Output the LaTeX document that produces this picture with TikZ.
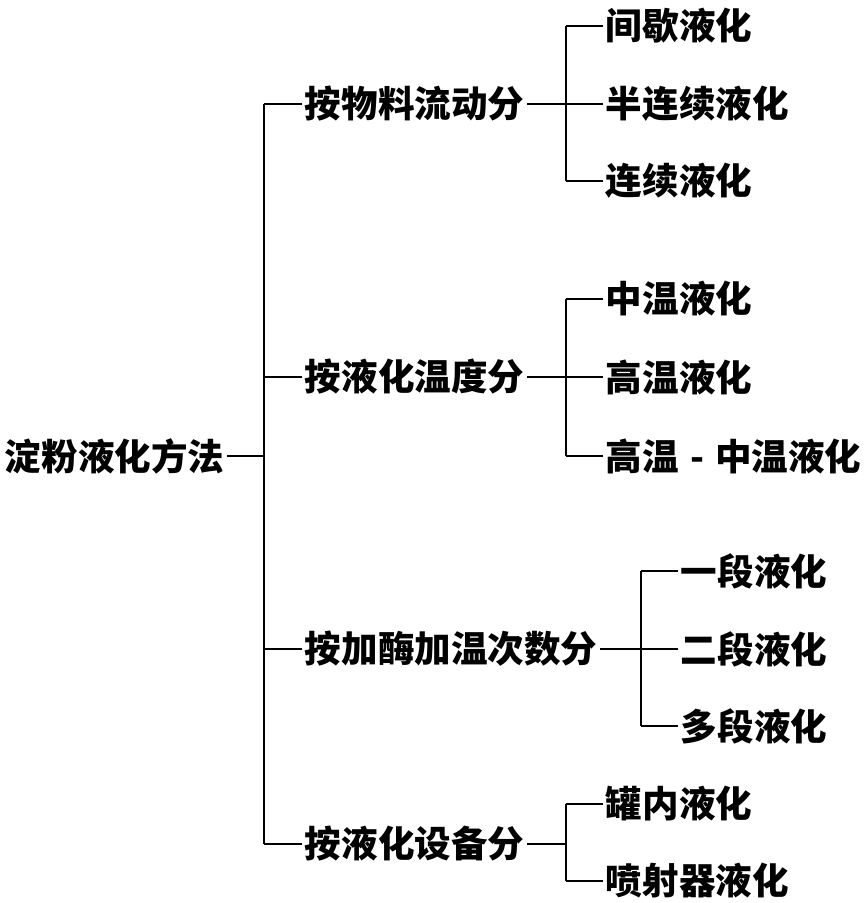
\documentclass[tikz,border=0pt]{standalone}
\usepackage{fontspec}
\setmainfont{Noto Sans CJK SC}
\usetikzlibrary{calc}
\tikzstyle{item}=[inner sep=1.5pt, anchor=west, font=\bfseries\fontsize{20.8pt}{24pt}\selectfont]
\tikzstyle{link}=[line width=1.1pt]

\begin{document}
\begin{tikzpicture}[x=0.02cm, y=-0.02cm]
	\useasboundingbox (0,0) rectangle (863,903);
	%\draw[help lines, step=50] (0,0) grid (863,903);

	\node[item] (root) at (2,456) {淀粉液化方法};
	\coordinate (trunk) at (264,0);%main line

	\node[item] (flow) at (302,104) {按物料流动分};
	\node[item] (temp) at (302,377) {按液化温度分};
	\node[item] (enz) at (302,649) {按加酶加温次数分};
	\node[item] (equip) at (302,844) {按液化设备分};

	\coordinate (fork1) at (566,0);
	\coordinate (fork3) at (641,0);

	\node[item] (flow1) at (603,26) {间歇液化};
	\node[item] (flow2) at (603,104) {半连续液化};
	\node[item] (flow3) at (603,181) {连续液化};

	\node[item] (temp1) at (603,299) {中温液化};
	\node[item] (temp2) at (603,377) {高温液化};
	\node[item] (temp3) at (603,456) {高温\hspace{0.3em}-\hspace{0.3em}中温液化};

	\node[item] (enz1) at (678,571) {一段液化};
	\node[item] (enz2) at (678,649) {二段液化};
	\node[item] (enz3) at (678,726) {多段液化};

	\node[item] (equip1) at (603,804) {罐内液化};
	\node[item] (equip2) at (603,881) {喷射器液化};

	% trunk
	\draw[link] (root.east) -- (root.east -| trunk);
	\draw[link] (trunk |- flow) -- (trunk |- equip);
	\draw[link] (trunk |- flow) -- (flow.west);
	\draw[link] (trunk |- temp) -- (temp.west);
	\draw[link] (trunk |- enz) -- (enz.west);
	\draw[link] (trunk |- equip) -- (equip.west);

	% by flow
	\draw[link] (flow.east) -- (flow.east -| fork1);
	\draw[link] (fork1 |- flow1) -- (fork1 |- flow3);
	\draw[link] (fork1 |- flow1) -- (flow1.west);
	\draw[link] (fork1 |- flow2) -- (flow2.west);
	\draw[link] (fork1 |- flow3) -- (flow3.west);

	% by temperature
	\draw[link] (temp.east) -- (temp.east -| fork1);
	\draw[link] (fork1 |- temp1) -- (fork1 |- temp3);
	\draw[link] (fork1 |- temp1) -- (temp1.west);
	\draw[link] (fork1 |- temp2) -- (temp2.west);
	\draw[link] (fork1 |- temp3) -- (temp3.west);

	% by enzyme steps
	\draw[link] (enz.east) -- (enz.east -| fork3);
	\draw[link] (fork3 |- enz1) -- (fork3 |- enz3);
	\draw[link] (fork3 |- enz1) -- (enz1.west);
	\draw[link] (fork3 |- enz2) -- (enz2.west);
	\draw[link] (fork3 |- enz3) -- (enz3.west);

	% by equipment
	\draw[link] (equip.east) -- (equip.east -| fork1);
	\draw[link] (fork1 |- equip1) -- (fork1 |- equip2);
	\draw[link] (fork1 |- equip1) -- (equip1.west);
	\draw[link] (fork1 |- equip2) -- (equip2.west);
\end{tikzpicture}
\end{document}
